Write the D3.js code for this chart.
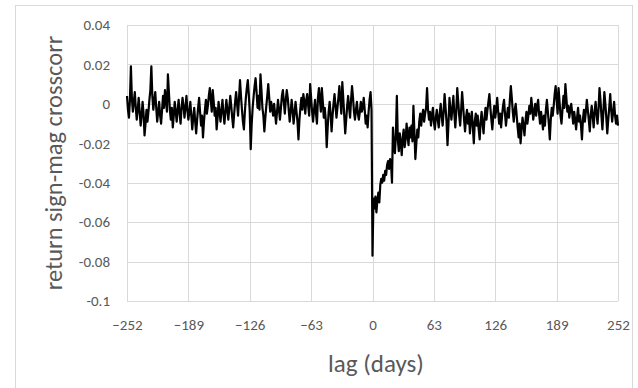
<!DOCTYPE html>
<html><head><meta charset="utf-8">
<script src="https://cdn.jsdelivr.net/npm/d3@7"></script>
<style>body{margin:0;background:#fff}svg{display:block}</style>
</head><body>
<svg id="c" width="638" height="388"></svg>
<script>
const xTicks = [-252,-189,-126,-63,0,63,126,189,252];
const yTicks = [-0.1,-0.08,-0.06,-0.04,-0.02,0,0.02,0.04];
const yTickLabels = ["-0.1","-0.08","-0.06","-0.04","-0.02","0","0.02","0.04"];
const xTitle = "lag (days)";
const yTitle = "return sign-mag crosscorr";
const lagStart = -252;
// lags -252 .. -1
const valuesNeg = [
 0.004,-0.003,-0.007,0.002,0.019,0.003,-0.004,0.001,0.006,-0.002,-0.008,-0.003,
 0.003,-0.004,-0.011,-0.006,0.001,-0.005,-0.016,-0.010,-0.003,-0.009,-0.004,0.002,
 0.007,0.019,0.004,-0.003,0.002,0.006,-0.002,-0.009,-0.004,0.001,-0.006,-0.010,
 -0.003,0.004,-0.002,0.007,0.002,-0.004,0.015,0.006,-0.003,-0.008,-0.002,-0.012,
 -0.006,0.001,-0.004,-0.009,-0.003,0.002,-0.005,-0.010,-0.002,0.003,-0.001,-0.007,
 -0.002,0.004,-0.003,-0.008,-0.004,0.001,-0.006,-0.013,-0.007,-0.002,-0.009,-0.015,
 -0.008,-0.002,0.003,-0.004,-0.011,-0.006,-0.017,-0.009,-0.003,0.002,-0.005,-0.001,
 0.004,0.008,0.002,-0.004,0.007,0.001,-0.006,-0.002,-0.013,-0.007,0.001,-0.004,
 -0.009,-0.003,0.002,-0.005,-0.010,-0.004,0.002,-0.003,-0.008,-0.002,0.004,-0.001,
 -0.007,-0.012,-0.005,0.001,0.006,0.000,-0.006,0.003,0.012,0.004,-0.003,-0.009,
 -0.013,-0.004,0.003,0.008,0.012,0.005,-0.004,-0.023,-0.010,-0.002,0.004,0.009,
 0.013,0.006,-0.002,0.004,-0.003,0.015,0.007,-0.002,-0.006,-0.014,-0.007,-0.001,
 0.004,0.010,0.003,-0.004,0.001,-0.002,-0.006,0.000,-0.005,-0.010,-0.004,0.002,
 -0.003,-0.008,-0.002,0.004,0.007,0.001,-0.005,0.002,0.007,0.003,-0.003,-0.009,
 -0.004,0.002,-0.003,-0.010,-0.005,0.001,-0.004,-0.009,-0.018,-0.008,-0.002,0.003,
 -0.003,0.005,0.001,-0.005,0.002,0.005,-0.001,-0.006,0.010,0.003,-0.004,-0.009,
 -0.003,0.002,-0.005,-0.010,0.003,0.008,0.002,-0.004,0.008,0.001,-0.007,-0.002,
 -0.008,-0.022,-0.012,-0.004,0.001,-0.005,-0.014,-0.006,0.000,0.005,-0.001,-0.007,
 -0.002,0.003,0.009,0.002,-0.005,0.011,0.003,-0.006,-0.015,-0.008,-0.001,0.004,
 -0.002,-0.007,0.002,0.009,0.003,-0.004,-0.008,-0.003,0.001,-0.005,-0.008,-0.004,
 0.001,-0.004,-0.002,0.003,-0.003,-0.010,-0.006,-0.012,-0.004,0.002,0.006,-0.003
];
// lag 0
const valueZero = [-0.077];
// lags 1 .. 252
const valuesPos = [
 -0.048,-0.053,-0.047,-0.055,-0.049,-0.045,-0.050,-0.041,-0.038,-0.040,-0.036,-0.039,
 -0.034,-0.036,-0.031,-0.029,-0.033,-0.028,-0.030,-0.040,-0.012,-0.020,-0.025,-0.016,
 0.004,-0.018,-0.024,-0.015,-0.020,-0.026,-0.017,-0.013,-0.022,-0.018,-0.010,-0.016,
 -0.021,-0.012,-0.017,-0.011,-0.019,-0.001,-0.014,-0.028,-0.020,-0.013,-0.017,-0.009,
 -0.005,-0.011,-0.006,-0.003,-0.009,-0.005,-0.002,0.008,-0.003,-0.008,-0.004,-0.011,
 -0.006,-0.002,-0.009,-0.013,-0.007,-0.003,-0.008,-0.012,-0.005,0.000,-0.006,-0.011,
 -0.004,0.005,-0.002,-0.009,-0.021,-0.010,0.003,-0.003,-0.008,-0.002,0.004,-0.005,
 -0.012,-0.004,0.008,0.001,-0.006,-0.011,-0.003,0.006,-0.001,-0.008,-0.014,-0.007,
 -0.003,-0.010,-0.005,-0.015,-0.008,-0.004,-0.012,-0.020,-0.009,-0.005,-0.011,-0.006,
 -0.013,-0.018,-0.009,-0.004,-0.010,-0.015,-0.007,-0.002,-0.008,-0.003,0.001,0.005,
 -0.002,-0.008,-0.013,-0.006,-0.001,-0.007,-0.003,0.003,-0.004,-0.010,-0.005,-0.012,
 -0.006,-0.001,0.002,-0.005,-0.011,-0.006,-0.002,-0.007,0.002,0.009,0.003,-0.004,
 -0.009,-0.003,0.000,-0.006,-0.012,-0.017,-0.010,-0.020,-0.013,-0.007,-0.011,-0.016,
 -0.009,-0.004,-0.010,-0.006,-0.001,-0.005,0.003,-0.002,-0.008,-0.004,0.000,-0.006,
 -0.001,0.002,-0.005,-0.010,-0.004,-0.008,-0.013,-0.006,-0.011,-0.003,0.002,-0.004,
 -0.010,-0.018,-0.008,-0.002,-0.006,-0.001,0.005,0.009,0.002,-0.005,0.008,0.001,
 -0.006,-0.010,-0.003,0.004,-0.002,0.010,0.003,-0.004,-0.001,-0.007,-0.003,0.000,
 -0.005,-0.010,-0.004,-0.008,-0.013,-0.007,-0.002,-0.009,-0.006,-0.011,-0.018,-0.008,
 -0.003,-0.009,-0.004,0.002,-0.003,-0.008,-0.014,-0.006,-0.001,-0.006,-0.012,-0.004,
 0.001,-0.005,-0.010,-0.003,0.008,0.002,-0.006,-0.013,-0.004,0.006,0.000,-0.007,
 -0.015,-0.008,-0.002,0.005,-0.003,-0.009,-0.004,0.001,-0.006,-0.010,-0.006,-0.011
];

const values = valuesNeg.concat(valueZero, valuesPos);
const data = values.map((v,i)=>({lag: lagStart+i, v}));

const svg = d3.select("#c");
const font = "Carlito, Calibri, Lato, 'Open Sans', sans-serif";
const txt = "#595959";
const grid = "#d9d9d9";

const L = 127, R = 618, T = 25, B = 301;
const x = d3.scaleLinear().domain([-252,252]).range([L,R]);
const y = d3.scaleLinear().domain([-0.1,0.04]).range([B,T]);

svg.append("rect").attr("x",15.5).attr("y",5.5).attr("width",617).attr("height",400)
  .attr("fill","none").attr("stroke","#d9d9d9");

// gridlines
svg.append("g").selectAll("line").data(yTicks).join("line")
  .attr("x1",L).attr("x2",R).attr("y1",d=>Math.round(y(d))+0.5).attr("y2",d=>Math.round(y(d))+0.5)
  .attr("stroke",grid).attr("stroke-width",1);
svg.append("g").selectAll("line").data(xTicks).join("line")
  .attr("y1",T).attr("y2",B).attr("x1",d=>Math.round(x(d))+0.5).attr("x2",d=>Math.round(x(d))+0.5)
  .attr("stroke",grid).attr("stroke-width",1);

// axes (labels only)
const xAxis = d3.axisBottom(x).tickValues(xTicks).tickSize(0).tickPadding(18).tickFormat(d3.format("d"));
const gx = svg.append("g").attr("transform",`translate(0,${B})`).call(xAxis);
gx.select(".domain").remove();
gx.selectAll("text").attr("fill",txt).style("font-family",font).style("font-size","15px");

const yAxis = d3.axisLeft(y).tickValues(yTicks).tickSize(0).tickPadding(17)
  .tickFormat((d,i)=>yTickLabels[i]);
const gy = svg.append("g").attr("transform",`translate(${L},0)`).call(yAxis);
gy.select(".domain").remove();
gy.selectAll("text").attr("fill",txt).style("font-family",font).style("font-size","15px");

// line
svg.append("path").datum(data)
  .attr("fill","none").attr("stroke","#000").attr("stroke-width",2.2).attr("stroke-linejoin","round")
  .attr("d", d3.line().x(d=>x(d.lag)).y(d=>y(d.v)));

// titles
svg.append("text").attr("x",376).attr("y",372).attr("text-anchor","middle")
  .attr("fill",txt).style("font-family",font).style("font-size","25px").text(xTitle);
svg.append("text").attr("transform",`translate(62,${(T+B)/2}) rotate(-90)`).attr("text-anchor","middle")
  .attr("fill",txt).style("font-family",font).style("font-size","24.5px").text(yTitle);
</script>
</body></html>
